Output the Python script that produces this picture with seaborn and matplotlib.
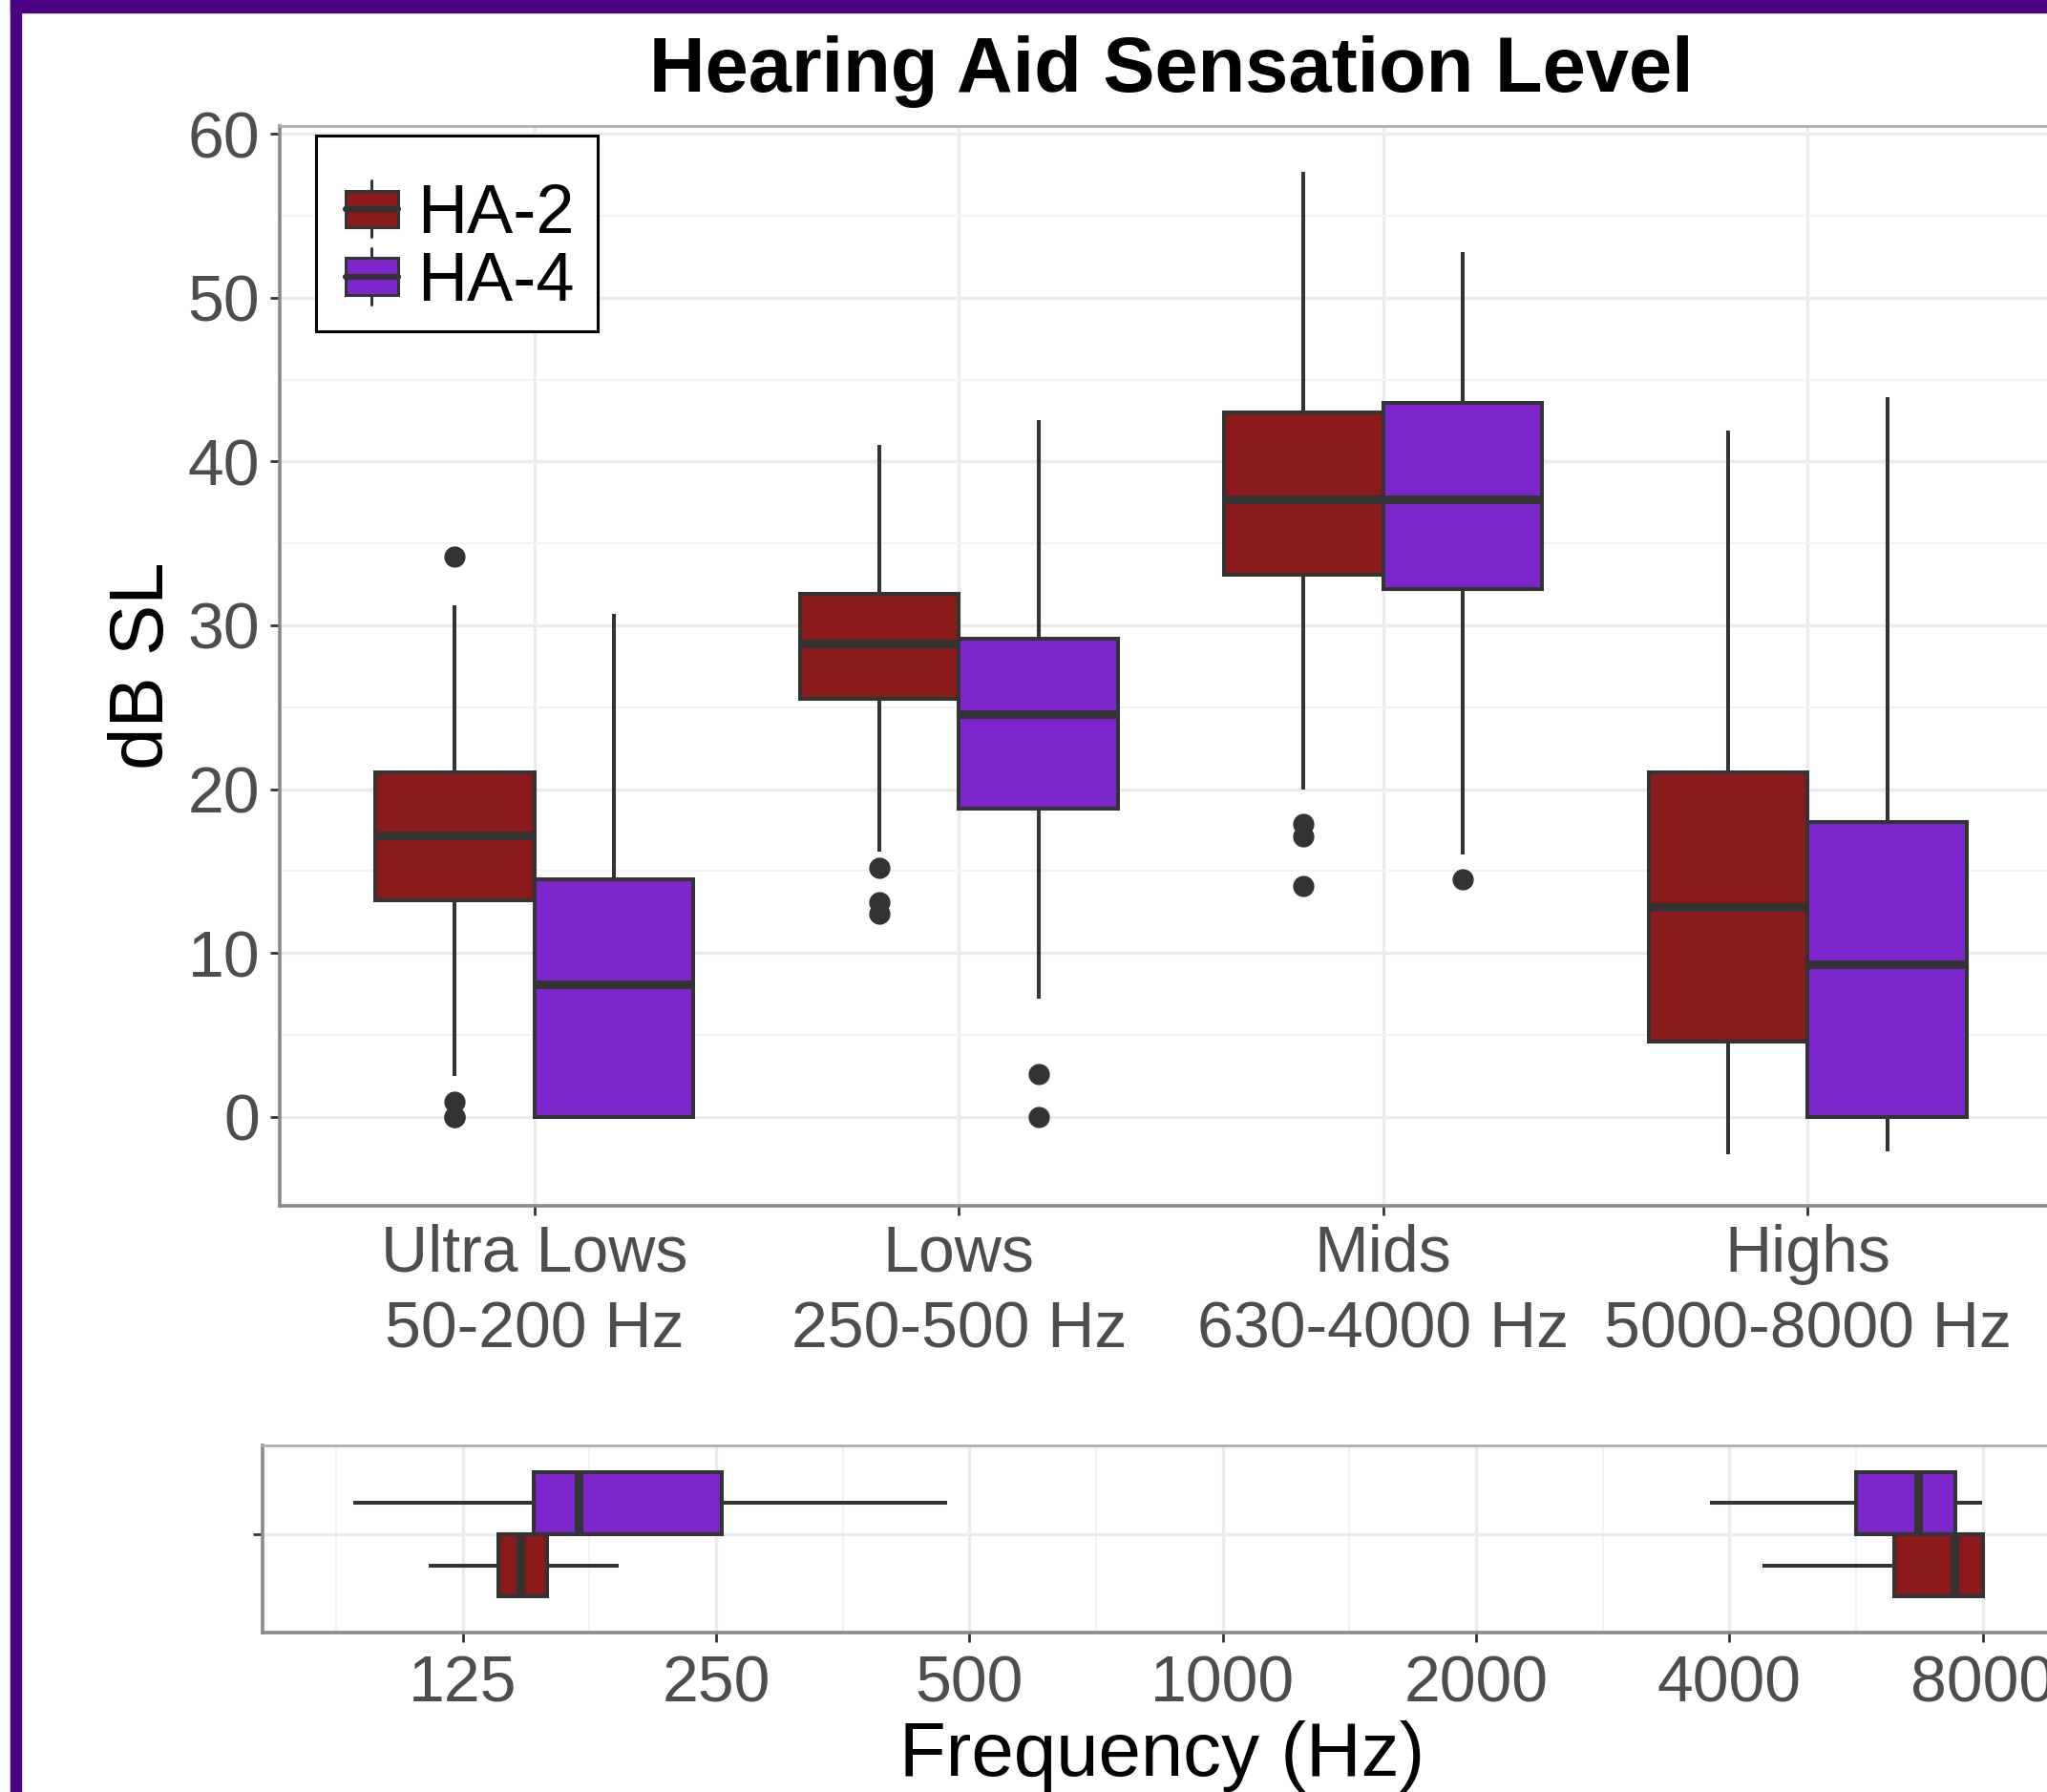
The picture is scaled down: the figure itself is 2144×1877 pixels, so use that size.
import pandas as pd
import matplotlib.pyplot as plt
from matplotlib.patches import Patch, Rectangle
from matplotlib.lines import Line2D
from matplotlib.legend_handler import HandlerBase
from matplotlib.ticker import NullFormatter
import seaborn as sns

sns.set_theme(style="whitegrid")
plt.rcParams['font.family'] = ['Liberation Sans', 'DejaVu Sans']

# ---- data ----
bands = ["Ultra Lows\n50-200 Hz", "Lows\n250-500 Hz", "Mids\n630-4000 Hz", "Highs\n5000-8000 Hz"]
devices = ["HA-2", "HA-4"]
colors = {"HA-2": "#8B1A1A", "HA-4": "#7D26CD"}

# dB SL per band; lists are sized (4k+1) so the quartiles land on the read values
ultra_ha2 = [0.0, 0.0, 0.9, 2.5, 13.2, 13.2, 13.2, 13.2, 17.2, 21.0, 21.0, 21.0, 21.0, 31.2, 31.2, 31.2, 34.2]
ultra_ha4 = [0.0, 0.0, 8.1, 14.5, 30.7]
lows_ha2 = [12.4, 13.1, 15.2, 16.2, 25.5, 25.5, 25.5, 25.5, 28.9, 31.9, 31.9, 31.9, 31.9, 41.0, 41.0, 41.0, 41.0]
lows_ha4 = [0.0, 2.6, 7.2, 18.8, 18.8, 18.8, 24.6, 29.2, 29.2, 29.2, 42.5, 42.5, 42.5]
mids_ha2 = [14.1, 17.1, 17.9, 20.0, 33.1, 33.1, 33.1, 33.1, 37.7, 43.0, 43.0, 43.0, 43.0, 57.7, 57.7, 57.7, 57.7]
mids_ha4 = [14.5, 16.0, 32.2, 32.2, 37.7, 43.6, 43.6, 52.8, 52.8]
highs_ha2 = [-2.3, 4.6, 12.8, 21.0, 41.9]
highs_ha4 = [-2.1, 0.0, 9.3, 18.0, 43.9]

# frequency (Hz), low and high edges per device
low_ha2 = [113.9, 137.7, 146.5, 157.6, 191.8]
low_ha4 = [92.7, 152.0, 171.5, 253.8, 471.0]
high_ha2 = [4386, 6278, 7400, 8000, 8000]
high_ha4 = [3795, 5653, 6700, 7418, 7980]
freq_ticks = [125, 250, 500, 1000, 2000, 4000, 8000]

rows = []
for band, a, b in zip(bands, [ultra_ha2, lows_ha2, mids_ha2, highs_ha2],
                      [ultra_ha4, lows_ha4, mids_ha4, highs_ha4]):
    rows += [(band, "HA-2", v) for v in a]
    rows += [(band, "HA-4", v) for v in b]
df = pd.DataFrame(rows, columns=["band", "device", "db"])

low_df = pd.DataFrame([("", "HA-2", v) for v in low_ha2] + [("", "HA-4", v) for v in low_ha4],
                      columns=["row", "device", "freq"])
high_df = pd.DataFrame([("", "HA-2", v) for v in high_ha2] + [("", "HA-4", v) for v in high_ha4],
                       columns=["row", "device", "freq"])

# ---- figure ----
W, H = 2144, 1877
fig = plt.figure(figsize=(W / 100, H / 100), dpi=100)
ax = fig.add_axes([293 / W, 1 - 1262.5 / H, (2160 - 293) / W, (1262.5 - 131.5) / H])
ax2 = fig.add_axes([275 / W, 1 - 1710 / H, (2160 - 275) / W, (1710 - 1514) / H])

grey = "#333333"
box_kw = dict(linecolor=grey, linewidth=2.9, saturation=1, showcaps=False, gap=0,
              fliersize=15, legend=False,
              medianprops=dict(linewidth=6.5, color=grey),
              flierprops=dict(marker="o", markersize=15, markerfacecolor=grey, markeredgecolor=grey))

sns.boxplot(data=df, x="band", y="db", hue="device", order=bands, hue_order=devices,
            palette=colors, width=0.75, whis=1.5, ax=ax, **box_kw)

for d in (low_df, high_df):
    sns.boxplot(data=d, x="freq", y="row", hue="device", hue_order=["HA-4", "HA-2"],
                palette=colors, width=0.8, whis=(0, 100), log_scale=2, ax=ax2, **box_kw)

# ---- top panel styling ----
ax.set_xticks(range(len(bands)))
ax.set_xticklabels(bands, linespacing=1.32)
ax.set_xlim(-0.6, 3.6)
ax.set_yticks(range(0, 61, 10))
ax.set_yticks(range(5, 60, 10), minor=True)
ax.set_ylim(-5.4, 60.5)
ax.set_xlabel("")
ax.set_ylabel("dB SL", fontsize=57.5, color="black", va="center", ha="center")
ax.yaxis.set_label_coords(-0.0764, 0.5)

for a in (ax, ax2):
    a.grid(True, which="major", color="#EBEBEB", linewidth=2.4)
    a.set_axisbelow(True)
    a.tick_params(which="major", bottom=True, left=True, length=7, width=2, color=grey,
                  labelsize=49, labelcolor="#4D4D4D")
    a.tick_params(which="minor", length=0)
    a.tick_params(axis="y", pad=8)
    for side in ("left", "bottom"):
        a.spines[side].set_color("#8A8A8A")
        a.spines[side].set_linewidth(2.6)
    for side in ("top", "right"):
        a.spines[side].set_color("#B0B0B0")
        a.spines[side].set_linewidth(2)
ax.tick_params(axis="x", pad=7)
ax2.tick_params(axis="x", pad=9.5)
ax.grid(True, which="minor", axis="y", color="#F2F2F2", linewidth=1.3)

# ---- bottom panel styling ----
ax2.set_xticks(freq_ticks)
ax2.set_xticklabels([str(f) for f in freq_ticks])
ax2.set_xticks([f * 2 ** 0.5 for f in [62.5] + freq_ticks[:-1]], minor=True)
ax2.xaxis.set_minor_formatter(NullFormatter())
ax2.set_xlim(72.3, 9950)
ax2.grid(True, which="minor", axis="x", color="#F2F2F2", linewidth=1.3)
ax2.set_yticks([0])
ax2.set_yticklabels([""])
ax2.set_ylim(0.63, -0.57)
ax2.set_ylabel("")
ax2.set_xlabel("Frequency (Hz)", fontsize=57.5, color="black", va="center")
ax2.xaxis.set_label_coords(0.5, -0.663)


# ---- legend with boxplot keys ----
class BoxKey(HandlerBase):
    def create_artists(self, legend, orig_handle, xdescent, ydescent, width, height, fontsize, trans):
        x0, y0 = -xdescent, -ydescent
        cx = x0 + width / 2
        whisk = Line2D([cx, cx], [y0 - 0.08 * height, y0 + 1.08 * height], color=grey, lw=2.2, transform=trans)
        box = Rectangle((x0, y0 + 0.12 * height), width, 0.76 * height, facecolor=orig_handle.get_facecolor(),
                        edgecolor=grey, linewidth=2.2, transform=trans)
        med = Line2D([x0, x0 + width], [y0 + height / 2] * 2, color=grey, lw=4.5, transform=trans)
        return [whisk, box, med]


# legend frame drawn on its own so the padding can match the original
frame = Rectangle((331 / W, 1 - 347 / H), (626 - 331) / W, (347 - 141.7) / H, transform=fig.transFigure,
                  facecolor="white", edgecolor="black", linewidth=2.2, zorder=4.9, clip_on=False)
ax.add_artist(frame)

handles = [Patch(facecolor=colors[d]) for d in devices]
leg = ax.legend(handles, devices, handler_map={Patch: BoxKey()}, loc="upper left",
                bbox_to_anchor=(362 / W, 1 - 192 / H), bbox_transform=fig.transFigure,
                fontsize=52, frameon=False, borderaxespad=0, borderpad=0,
                labelspacing=0.055, handlelength=0.76, handleheight=0.7, handletextpad=0.28)
leg.set_zorder(5)
for t in leg.get_texts():
    t.set_color("black")

# ---- title and purple frame ----
fig.text((293 + 2160) / 2 / W, 1 - 96 / H, "Hearing Aid Sensation Level", ha="center", va="baseline",
         fontsize=58.5, fontweight="bold", color="black")
fig.add_artist(Rectangle((11.3 / W, 1 - 12.7 / H), 1, 12.7 / H, transform=fig.transFigure,
                         color="#4B0082", zorder=10))
fig.add_artist(Rectangle((11.3 / W, 0), (22 - 11.3) / W, 1, transform=fig.transFigure,
                         color="#4B0082", zorder=10))

fig.savefig("out.png", dpi=100)
